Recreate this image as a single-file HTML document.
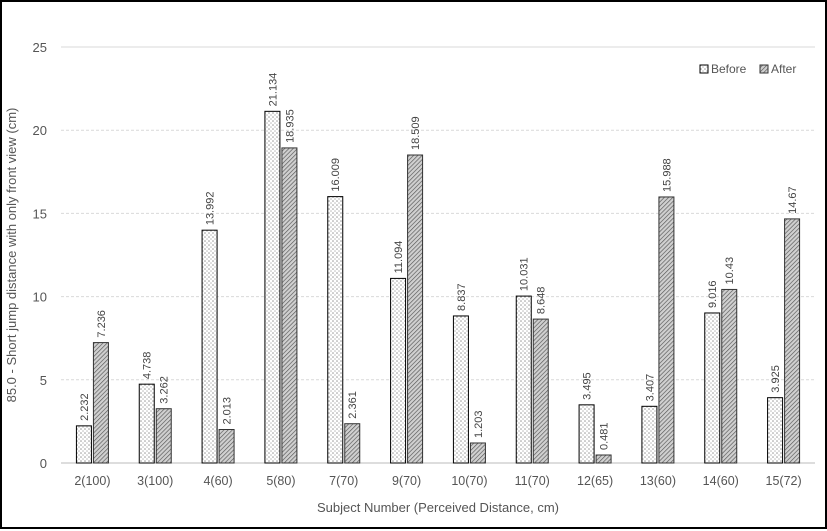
<!DOCTYPE html>
<html><head><meta charset="utf-8"><style>
body{margin:0;background:#fff}
svg{display:block;font-family:"Liberation Sans",sans-serif}
</style></head><body>
<svg id="chart" width="827" height="531">
<defs>
<pattern id="dots" width="4" height="4" patternUnits="userSpaceOnUse">
<rect width="4" height="4" fill="#fff"/><circle cx="1" cy="1" r="0.8" fill="#999"/><circle cx="3" cy="3" r="0.8" fill="#bbb"/>
</pattern>
<pattern id="hatch" width="3" height="3" patternUnits="userSpaceOnUse" patternTransform="rotate(45)">
<rect width="3" height="3" fill="#d0d0d0"/><line x1="0" y1="0" x2="0" y2="3" stroke="#555" stroke-width="1.3"/>
</pattern>
</defs>
<rect x="1" y="1" width="825" height="527" fill="#fff" stroke="#000" stroke-width="2"/>
<g id="grid"></g><g id="bars"></g><g id="labels"></g>
<text x="16" y="255" transform="rotate(-90 16 255)" text-anchor="middle" font-size="13" fill="#555">85.0 - Short jump distance with only front view (cm)</text>
<text x="438" y="512" text-anchor="middle" font-size="13" fill="#555">Subject Number (Perceived Distance, cm)</text>
<g>
<g><rect x="700" y="65" width="8" height="8" fill="url(#dots)" stroke="#000"/><text x="711" y="73" font-size="12" fill="#555">Before</text></g>
<g><rect x="760" y="65" width="8" height="8" fill="url(#hatch)" stroke="#333"/><text x="771" y="73" font-size="12" fill="#555">After</text></g>
</g>
</svg>
<script>
const categories=["2(100)","3(100)","4(60)","5(80)","7(70)","9(70)","10(70)","11(70)","12(65)","13(60)","14(60)","15(72)"];
const beforeVals=[2.232,4.738,13.992,21.134,16.009,11.094,8.837,10.031,3.495,3.407,9.016,3.925];
const afterVals=[7.236,3.262,2.013,18.935,2.361,18.509,1.203,8.648,0.481,15.988,10.43,14.67];
const beforeLabels=["2.232","4.738","13.992","21.134","16.009","11.094","8.837","10.031","3.495","3.407","9.016","3.925"];
const afterLabels=["7.236","3.262","2.013","18.935","2.361","18.509","1.203","8.648","0.481","15.988","10.43","14.67"];
const yTicks=[0,5,10,15,20,25];
const NS="http://www.w3.org/2000/svg";
const x0=61,x1=815,y0=463,yTop=47,yMax=25;
const band=(x1-x0)/categories.length;
const y=v=>y0-(v/yMax)*(y0-yTop);
const xc=i=>x0+band*(i+0.5);
function mk(tag,attrs,parent){const e=document.createElementNS(NS,tag);for(const k in attrs)e.setAttribute(k,attrs[k]);document.getElementById(parent).appendChild(e);return e;}
yTicks.forEach(t=>{
 const l=mk('line',{x1:x0,x2:x1,y1:y(t),y2:y(t),stroke:t===0?'#bbb':'#d9d9d9','stroke-width':1,'stroke-dasharray':(t===0||t===25)?'':'3,2'},'grid');
 
 
 const tx=mk('text',{x:47,y:y(t)+5,'text-anchor':'end','font-size':13,fill:'#555'},'grid');
 tx.textContent=t;
 
 
});
const bw=15,gap=2;
categories.forEach((c,i)=>{
 const bx=xc(i)-gap/2-bw, ax=xc(i)+gap/2;
 const b=mk('rect',{x:bx,y:y(beforeVals[i]),width:bw,height:y0-y(beforeVals[i]),fill:'url(#dots)',stroke:'#000','stroke-width':1},'bars');
 
 
 const a=mk('rect',{x:ax,y:y(afterVals[i]),width:bw,height:y0-y(afterVals[i]),fill:'url(#hatch)',stroke:'#333','stroke-width':1},'bars');
 
 
 [[bx,beforeVals[i],beforeLabels[i]],[ax,afterVals[i],afterLabels[i]]].forEach(([px,v,s])=>{
  const lx=px+bw/2+4, ly=y(v)-5;
  const t=mk('text',{x:lx,y:ly,transform:`rotate(-90 ${lx} ${ly})`,'font-size':11,fill:'#444'},'labels');
  t.textContent=s;
  
  
 });
 const ct=mk('text',{x:xc(i),y:485,'text-anchor':'middle','font-size':12.5,fill:'#555'},'labels');
 ct.textContent=c;
 
 
});
</script>
</body></html>
